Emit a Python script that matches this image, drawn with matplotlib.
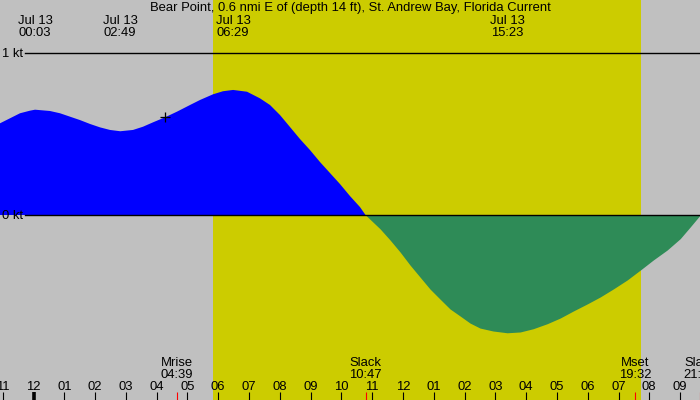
import matplotlib
matplotlib.use("Agg")
import matplotlib.pyplot as plt
import numpy as np
from matplotlib.transforms import blended_transform_factory

# ---- data ----
title = "Bear Point, 0.6 nmi E of (depth 14 ft), St. Andrew Bay, Florida Current"
hours = [-1.088, -0.763, -0.438, -0.114, 0.05, 0.536, 0.861, 1.185, 1.510, 1.835,
         2.160, 2.485, 2.817, 3.232, 3.557, 3.882, 4.271, 4.661, 5.083, 5.408,
         5.830, 6.155, 6.483, 6.934, 7.356, 7.681, 8.006, 8.331, 8.655, 8.980,
         9.305, 9.630, 9.955, 10.279, 10.604, 10.783,
         11.254, 11.579, 11.904, 12.229, 12.553, 12.878, 13.203, 13.528, 13.852,
         14.177, 14.502, 14.924, 15.383, 15.807, 16.229, 16.684, 17.106, 17.528,
         17.983, 18.405, 18.827, 19.282, 19.769, 20.127, 20.581, 21.004, 21.328, 21.653]
speed = [0.566, 0.597, 0.628, 0.644, 0.650, 0.642, 0.628, 0.607, 0.586, 0.562,
         0.541, 0.525, 0.517, 0.525, 0.545, 0.572, 0.603, 0.638, 0.679, 0.710,
         0.745, 0.764, 0.772, 0.761, 0.720, 0.679, 0.617, 0.543, 0.469, 0.401,
         0.327, 0.259, 0.191, 0.117, 0.049, 0.0,
         -0.085, -0.154, -0.228, -0.309, -0.383, -0.457, -0.519, -0.580, -0.623,
         -0.667, -0.698, -0.716, -0.727, -0.722, -0.702, -0.671, -0.636, -0.593,
         -0.549, -0.506, -0.457, -0.401, -0.331, -0.278, -0.216, -0.146, -0.074, 0.0]
sunrise, sunset = 5.83, 19.73
extrema_times = [0.05, 2.817, 6.483, 15.383]
extrema_labels = ["00:03", "02:49", "06:29", "15:23"]
extrema_date = "Jul 13"
events_times = [4.65, 10.783, 19.533, 21.65]
events_names = ["Mrise", "Slack", "Mset", "Slack"]
events_labels = ["04:39", "10:47", "19:32", "21:39"]
tick_hours = list(range(-1, 22))
tick_labels = ["11", "12", "01", "02", "03", "04", "05", "06", "07", "08", "09", "10",
               "11", "12", "01", "02", "03", "04", "05", "06", "07", "08", "09"]
now_time, now_speed = 4.27, 0.605

# ---- layout ----
W, H = 700, 400
px_per_hour = 30.79
x0_px = 33.5          # midnight position
zero_px, one_px = 215, 53
kt_px = zero_px - one_px
xmin = (0 - x0_px) / px_per_hour
xmax = (W - x0_px) / px_per_hour
ymax = zero_px / kt_px
ymin = (zero_px - H) / kt_px

fig = plt.figure(figsize=(7, 4), dpi=100)
fig.patch.set_facecolor("#C0C0C0")
ax = fig.add_axes([0, 0, 1, 1])
ax.set_xlim(xmin, xmax)
ax.set_ylim(ymin, ymax)
ax.axis("off")
ax.set_facecolor("#C0C0C0")

FONT = "Liberation Sans"
FS = 9.4

ax.axvspan(sunrise, sunset, color="#CCCC00", lw=0, zorder=1)

h = np.array(hours)
s = np.array(speed)
ax.fill_between(h, 0, s, where=s >= 0, interpolate=True, color="#0000FF", lw=0, zorder=2)
ax.fill_between(h, 0, s, where=s <= 0, interpolate=True, color="#2E8B57", lw=0, zorder=2)

def px_y(y):
    return 1 - y / H

bt = blended_transform_factory(ax.transData, ax.transAxes)

def label(x, y, txt, trans, ha="center"):
    ax.text(x, px_y(y), txt, transform=trans, ha=ha, va="baseline",
            fontsize=FS, family=FONT, zorder=4)

# reference lines
lstart = (25 - x0_px) / px_per_hour
ax.plot([lstart, xmax], [1, 1], color="black", lw=1, zorder=3)
ax.plot([lstart, xmax], [0, 0], color="black", lw=1, zorder=3)
label(2 / W, 57, "1 kt", ax.transAxes, ha="left")
label(2 / W, 219, "0 kt", ax.transAxes, ha="left")

# title
label(0.5, 11.5, title, ax.transAxes)

# extrema labels
for t, lab in zip(extrema_times, extrema_labels):
    label(t, 24.5, extrema_date, bt)
    label(t, 36, lab, bt)

# current time marker
ax.plot([now_time], [now_speed], marker="+", color="black", markersize=6.5, mew=0.9, zorder=5)

# hour ticks
for th, lab in zip(tick_hours, tick_labels):
    ax.plot([th, th], [px_y(392), px_y(400)], transform=bt, color="black",
            lw=(2.6 if th % 24 == 0 else 0.8), solid_capstyle="butt", zorder=4)
    label(th, 389.5, lab, bt)

# events
for t, nm, lab in zip(events_times, events_names, events_labels):
    ax.plot([t, t], [px_y(392), px_y(400)], transform=bt, color="red", lw=0.8,
            solid_capstyle="butt", zorder=4)
    label(t, 366, nm, bt)
    label(t, 378, lab, bt)

fig.savefig("out.png", dpi=100, facecolor=fig.get_facecolor())
